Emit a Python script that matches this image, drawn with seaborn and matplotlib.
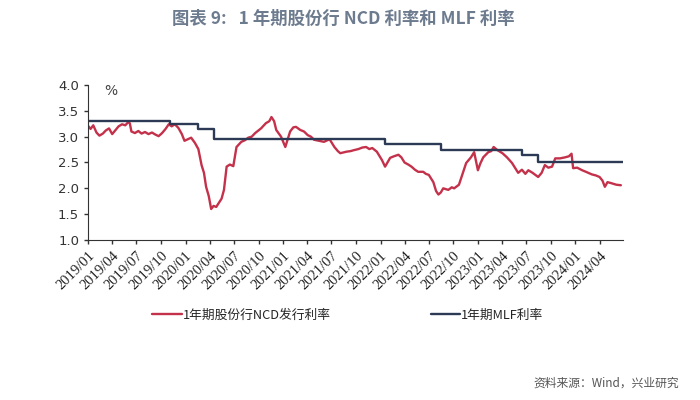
import pandas as pd
import matplotlib
matplotlib.use("Agg")
import matplotlib.pyplot as plt
import seaborn as sns

# 1年期股份行NCD发行利率
ncd_dates = [
    "2019-01-02", "2019-01-10", "2019-01-20", "2019-02-01", "2019-02-12", "2019-02-25",
    "2019-03-08", "2019-03-20", "2019-04-01", "2019-04-12", "2019-04-25", "2019-05-08",
    "2019-05-20", "2019-05-31", "2019-06-06", "2019-06-12", "2019-06-25", "2019-07-08",
    "2019-07-20", "2019-08-02", "2019-08-15", "2019-08-28", "2019-09-10", "2019-09-22",
    "2019-10-05", "2019-10-18", "2019-10-30", "2019-11-10", "2019-11-22", "2019-12-05",
    "2019-12-18", "2019-12-28", "2020-01-10", "2020-01-22", "2020-02-05", "2020-02-18",
    "2020-03-01", "2020-03-10", "2020-03-18", "2020-03-28", "2020-04-06", "2020-04-15",
    "2020-04-25", "2020-05-05", "2020-05-15", "2020-05-24", "2020-06-03", "2020-06-15",
    "2020-06-28", "2020-07-10", "2020-07-28", "2020-08-10", "2020-08-23", "2020-09-05",
    "2020-09-18", "2020-10-10", "2020-10-28", "2020-11-10", "2020-11-18", "2020-11-28",
    "2020-12-06", "2020-12-24", "2021-01-09", "2021-01-18", "2021-01-27", "2021-02-08",
    "2021-02-18", "2021-03-06", "2021-03-20", "2021-04-03", "2021-04-15", "2021-04-27",
    "2021-05-15", "2021-06-03", "2021-06-24", "2021-07-12", "2021-07-25", "2021-08-03",
    "2021-08-27", "2021-09-10", "2021-09-24", "2021-10-10", "2021-10-25", "2021-11-08",
    "2021-11-20", "2021-12-01", "2021-12-18", "2022-01-06", "2022-01-18", "2022-02-06",
    "2022-02-20", "2022-03-09", "2022-03-20", "2022-04-01", "2022-04-15", "2022-04-27",
    "2022-05-10", "2022-05-22", "2022-06-10", "2022-06-20", "2022-07-01", "2022-07-18",
    "2022-07-28", "2022-08-06", "2022-08-15", "2022-08-24", "2022-09-12", "2022-09-25",
    "2022-10-04", "2022-10-22", "2022-11-06", "2022-11-18", "2022-12-06", "2022-12-18",
    "2023-01-01", "2023-01-10", "2023-01-21", "2023-02-09", "2023-02-20", "2023-03-01",
    "2023-03-15", "2023-04-03", "2023-04-20", "2023-05-09", "2023-05-20", "2023-06-01",
    "2023-06-15", "2023-06-28", "2023-07-09", "2023-07-25", "2023-08-15", "2023-08-28",
    "2023-09-09", "2023-09-22", "2023-10-06", "2023-10-18", "2023-11-05", "2023-11-24",
    "2023-12-08", "2023-12-18", "2023-12-24", "2024-01-08", "2024-01-27", "2024-02-10",
    "2024-03-03", "2024-03-18", "2024-04-01", "2024-04-12", "2024-04-21", "2024-05-01",
    "2024-05-15", "2024-06-03", "2024-06-20",
]
ncd_values = [
    3.20, 3.15, 3.22, 3.08, 3.02, 3.06,
    3.12, 3.16, 3.05, 3.12, 3.20, 3.24,
    3.22, 3.28, 3.26, 3.10, 3.07, 3.11,
    3.06, 3.09, 3.05, 3.08, 3.04, 3.01,
    3.07, 3.15, 3.24, 3.20, 3.24, 3.17,
    3.05, 2.92, 2.95, 2.98, 2.88, 2.76,
    2.45, 2.30, 2.03, 1.85, 1.60, 1.66,
    1.64, 1.72, 1.80, 1.97, 2.42, 2.46,
    2.43, 2.80, 2.90, 2.93, 2.98, 3.00,
    3.07, 3.16, 3.26, 3.30, 3.38, 3.30,
    3.13, 3.00, 2.80, 2.95, 3.10, 3.18,
    3.19, 3.13, 3.10, 3.03, 3.00, 2.94,
    2.92, 2.90, 2.95, 2.80, 2.72, 2.68,
    2.71, 2.72, 2.74, 2.76, 2.79, 2.80,
    2.76, 2.78, 2.71, 2.55, 2.42, 2.59,
    2.62, 2.65, 2.60, 2.50, 2.46, 2.42,
    2.36, 2.32, 2.32, 2.28, 2.26, 2.12,
    1.95, 1.88, 1.92, 2.00, 1.97, 2.02,
    2.00, 2.07, 2.30, 2.49, 2.60, 2.70,
    2.35, 2.48, 2.60, 2.70, 2.72, 2.80,
    2.74, 2.68, 2.60, 2.49, 2.40, 2.30,
    2.36, 2.28, 2.35, 2.30, 2.22, 2.30,
    2.45, 2.40, 2.42, 2.58, 2.58, 2.60,
    2.62, 2.67, 2.39, 2.40, 2.35, 2.32,
    2.27, 2.25, 2.22, 2.15, 2.03, 2.12,
    2.10, 2.07, 2.06,
]

# 1年期MLF利率 (step changes)
mlf_dates = ["2019-01-01", "2019-11-05", "2020-02-17", "2020-04-15", "2022-01-17",
             "2022-08-15", "2023-06-15", "2023-08-15", "2024-06-28"]
mlf_values = [3.30, 3.25, 3.15, 2.95, 2.85, 2.75, 2.65, 2.50, 2.50]

tick_labels = ["2019/01", "2019/04", "2019/07", "2019/10", "2020/01", "2020/04", "2020/07",
               "2020/10", "2021/01", "2021/04", "2021/07", "2021/10", "2022/01", "2022/04",
               "2022/07", "2022/10", "2023/01", "2023/04", "2023/07", "2023/10", "2024/01",
               "2024/04"]

ncd = pd.DataFrame({"date": pd.to_datetime(ncd_dates), "rate": ncd_values})
mlf = pd.DataFrame({"date": pd.to_datetime(mlf_dates), "rate": mlf_values})

sns.set_style("ticks")
plt.rcParams["font.family"] = ["Noto Sans CJK SC", "DejaVu Sans"]

red = "#c4314b"
navy = "#2c3a56"

fig = plt.figure(figsize=(7, 4), dpi=100)
ax = fig.add_axes([0.126, 0.40, 0.764, 0.3875])

sns.lineplot(data=ncd, x="date", y="rate", ax=ax, color=red, lw=1.7,
             label="1年期股份行NCD发行利率")
sns.lineplot(data=mlf, x="date", y="rate", ax=ax, color=navy, lw=1.7,
             drawstyle="steps-post", label="1年期MLF利率")

ax.set_ylim(1.0, 4.0)
ax.set_yticks([1.0, 1.5, 2.0, 2.5, 3.0, 3.5, 4.0])
ax.set_yticklabels([f"{v:.1f}" for v in ax.get_yticks()], fontsize=9.5,
                   family="DejaVu Sans", color="#333333")
ax.set_xlim(pd.Timestamp("2019-01-01"), pd.Timestamp("2024-06-28"))
ticks = pd.to_datetime([t.replace("/", "-") + "-01" for t in tick_labels])
ax.set_xticks(ticks)
ax.set_xticklabels(tick_labels, rotation=45, ha="right", rotation_mode="anchor",
                   fontsize=10.5, family="Liberation Serif", color="#222222")
ax.set_xlabel("")
ax.set_ylabel("")
ax.tick_params(length=3, width=1, color="#333333")
for s in ["top", "right"]:
    ax.spines[s].set_visible(False)
for s in ["left", "bottom"]:
    ax.spines[s].set_color("#333333")
ax.text(0.03, 0.96, "%", transform=ax.transAxes, fontsize=10, color="#444444",
        va="center", family="DejaVu Sans")

handles, labels = ax.get_legend_handles_labels()
ax.get_legend().remove()
fig.legend(handles, labels, loc="center", bbox_to_anchor=(0.497, 0.212), ncol=2,
           frameon=False, fontsize=9.2, handlelength=2.3, handletextpad=0.1,
           columnspacing=7.8)

fig.text(0.49, 0.953, "图表 9:   1 年期股份行 NCD 利率和 MLF 利率", ha="center", va="center",
         fontsize=12.5, fontweight="bold", color="#6d7b8f")
fig.text(0.97, 0.043, "资料来源：Wind，兴业研究", ha="right", va="center",
         fontsize=8.5, color="#555555")

fig.savefig("out.png", dpi=100)
